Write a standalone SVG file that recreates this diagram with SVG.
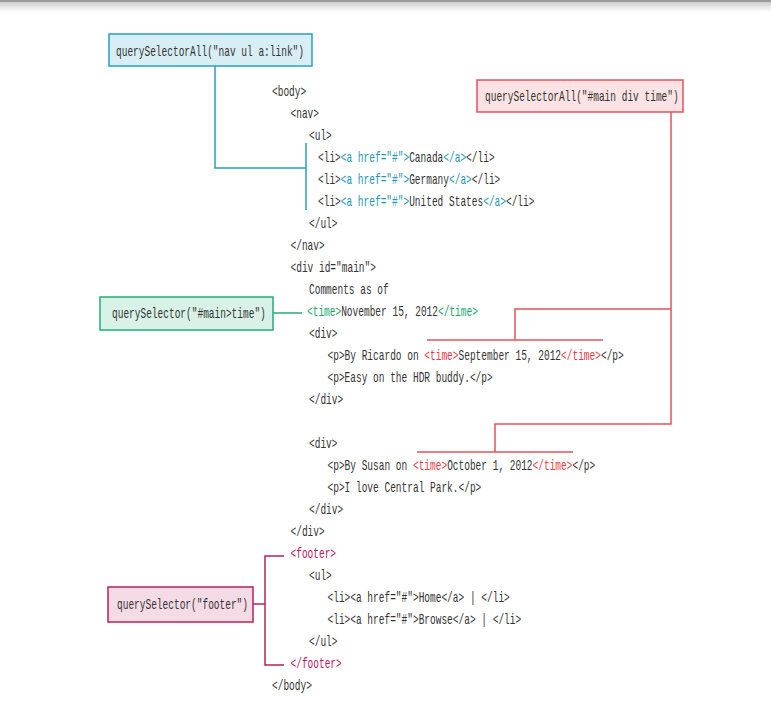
<svg xmlns="http://www.w3.org/2000/svg" width="771" height="701" viewBox="0 0 771 701">
<defs>
<linearGradient id="shade" x1="0" y1="0" x2="0" y2="1">
<stop offset="0" stop-color="#cfcfcf"/>
<stop offset="1" stop-color="#ffffff"/>
</linearGradient>
</defs>
<style>
text{font-family:"Liberation Mono","DejaVu Sans Mono",monospace;font-size:14px;fill:#333333}
.b{fill:#2196b6}.g{fill:#17a86e}.r{fill:#e83a45}.m{fill:#b5175f}
.box{stroke-width:1.5}
.ln{fill:none;stroke-width:1.5}
</style>
<rect x="0" y="0" width="771" height="701" fill="#ffffff"/>
<rect x="0" y="0" width="771" height="2" fill="#9a9a9a"/>
<rect x="0" y="2" width="771" height="10" fill="url(#shade)"/>

<g id="connectors">
<polyline class="ln" stroke="#2a9fbd" points="215,66 215,168 306,168"/>
<line class="ln" stroke="#2a9fbd" x1="306" y1="143" x2="306" y2="210"/>
<polyline class="ln" stroke="#e4525c" points="671,112 671,424 495,424 495,452"/>
<line class="ln" stroke="#e4525c" x1="417" y1="452" x2="573" y2="452"/>
<polyline class="ln" stroke="#e4525c" points="671,309 515,309 515,340"/>
<line class="ln" stroke="#e4525c" x1="427" y1="340" x2="603" y2="340"/>
<line class="ln" stroke="#22ad78" x1="273" y1="313" x2="302" y2="313"/>
<polyline class="ln" stroke="#b8205f" points="284,556 265,556 265,665 284,665"/>
<line class="ln" stroke="#b8205f" x1="253" y1="604" x2="265" y2="604"/>
</g>

<g id="node-navlinks">
<rect class="box" x="109" y="34" width="203" height="32" fill="#d8eef5" stroke="#2a9fbd"/>
<text transform="scale(0.678571 1)" x="170.95" y="56">querySelectorAll("nav ul a:link")</text>
</g>
<g id="node-maindivtime">
<rect class="box" x="477" y="80" width="206" height="32" fill="#fde3e3" stroke="#e4525c"/>
<text transform="scale(0.678571 1)" x="714.74" y="101">querySelectorAll("#main div time")</text>
</g>
<g id="node-maintime">
<rect class="box" x="100" y="297" width="173" height="33" fill="#d9f2e7" stroke="#22ad78"/>
<text transform="scale(0.678571 1)" x="165.05" y="318.5">querySelector("#main&gt;time")</text>
</g>
<g id="node-footer">
<rect class="box" x="108" y="587" width="145" height="35" fill="#f5dbe6" stroke="#b8205f"/>
<text transform="scale(0.678571 1)" x="172.42" y="609.5">querySelector("footer")</text>
</g>

<g id="code" transform="scale(0.678571 1)">
<text x="400.84" y="96.5">&lt;body&gt;</text>
<text x="428.11" y="118.5">&lt;nav&gt;</text>
<text x="455.37" y="140.5">&lt;ul&gt;</text>
<text x="468.63" y="162.5">&lt;li&gt;<tspan class="b">&lt;a href="#"&gt;</tspan>Canada<tspan class="b">&lt;/a&gt;</tspan>&lt;/li&gt;</text>
<text x="468.63" y="184.5">&lt;li&gt;<tspan class="b">&lt;a href="#"&gt;</tspan>Germany<tspan class="b">&lt;/a&gt;</tspan>&lt;/li&gt;</text>
<text x="468.63" y="206.5">&lt;li&gt;<tspan class="b">&lt;a href="#"&gt;</tspan>United States<tspan class="b">&lt;/a&gt;</tspan>&lt;/li&gt;</text>
<text x="455.37" y="228.5">&lt;/ul&gt;</text>
<text x="428.11" y="250.5">&lt;/nav&gt;</text>
<text x="428.11" y="272.5">&lt;div id="main"&gt;</text>
<text x="455.37" y="294.5">Comments as of</text>
<text x="452.42" y="316.5"><tspan class="g">&lt;time&gt;</tspan>November 15, 2012<tspan class="g">&lt;/time&gt;</tspan></text>
<text x="455.37" y="338.5">&lt;div&gt;</text>
<text x="482.63" y="360.5">&lt;p&gt;By Ricardo on <tspan class="r">&lt;time&gt;</tspan>September 15, 2012<tspan class="r">&lt;/time&gt;</tspan>&lt;/p&gt;</text>
<text x="482.63" y="382.5">&lt;p&gt;Easy on the HDR buddy.&lt;/p&gt;</text>
<text x="455.37" y="404.5">&lt;/div&gt;</text>
<text x="455.37" y="448.5">&lt;div&gt;</text>
<text x="482.63" y="470.5">&lt;p&gt;By Susan on <tspan class="r">&lt;time&gt;</tspan>October 1, 2012<tspan class="r">&lt;/time&gt;</tspan>&lt;/p&gt;</text>
<text x="482.63" y="492.5">&lt;p&gt;I love Central Park.&lt;/p&gt;</text>
<text x="455.37" y="514.5">&lt;/div&gt;</text>
<text x="428.11" y="536.5">&lt;/div&gt;</text>
<text class="m" x="428.11" y="558.5">&lt;footer&gt;</text>
<text x="455.37" y="580.5">&lt;ul&gt;</text>
<text x="482.63" y="602.5">&lt;li&gt;&lt;a href="#"&gt;Home&lt;/a&gt; | &lt;/li&gt;</text>
<text x="482.63" y="624.5">&lt;li&gt;&lt;a href="#"&gt;Browse&lt;/a&gt; | &lt;/li&gt;</text>
<text x="455.37" y="646.5">&lt;/ul&gt;</text>
<text class="m" x="428.11" y="668.5">&lt;/footer&gt;</text>
<text x="400.84" y="690.5">&lt;/body&gt;</text>
</g>
</svg>
